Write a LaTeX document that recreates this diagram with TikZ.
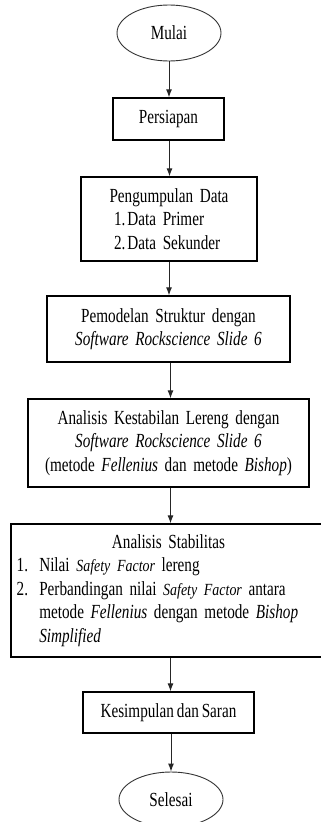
\documentclass[tikz,border=0pt]{standalone}
\usepackage{fontspec}
\setmainfont{Liberation Serif}[FakeStretch=0.76, WordSpace=0.76]
\newfontfamily\smallitfam{Liberation Serif}[FakeStretch=0.82, WordSpace=0.82]
\usetikzlibrary{arrows.meta,shapes.geometric}
\newcommand{\sfact}{{\smallitfam\itshape\fontsize{17}{23.5}\selectfont Safety Factor}}
\begin{document}
\begin{tikzpicture}[x=1pt,y=1pt,
  every node/.style={font=\fontsize{20}{23.5}\selectfont, inner sep=0pt, text=black},
  box/.style={draw=black, line width=1.3pt, rectangle},
  term/.style={draw=black!80, line width=0.9pt, ellipse},
  arr/.style={draw=black!85, line width=1pt, -{Latex[length=8pt,width=6pt]}}]
\useasboundingbox (0,0) rectangle (321,-822);
\node[term, minimum width=104pt, minimum height=56pt] (mulai) at (169,-33) {Mulai};
\node[box, minimum width=111pt, minimum height=42pt] (prep) at (168.5,-119) {Persiapan};
\node[box, minimum width=176pt, minimum height=84pt, text width=176pt, align=left] (data) at (169,-219)
  {\makebox[176pt][c]{Pengumpulan Data}\\\hspace*{33pt}1.\kern2pt Data Primer\\\hspace*{33pt}2.\kern2pt Data Sekunder};
\node[box, minimum width=243pt, minimum height=66pt, text width=243pt, align=center] (model) at (168.5,-329)
  {Pemodelan Struktur dengan\\\textit{Software Rockscience Slide 6}};
\node[box, minimum width=281pt, minimum height=88pt, text width=281pt, align=center] (kest) at (168.5,-443)
  {Analisis Kestabilan Lereng dengan\\\textit{Software Rockscience Slide 6}\\(metode \textit{Fellenius} dan metode \textit{Bishop})};
\node[box, minimum width=315pt, minimum height=133pt, text width=315pt, align=left] (stab) at (168.5,-590.5)
  {\makebox[315pt][c]{Analisis Stabilitas}\\
   \hspace*{5.7pt}\makebox[22.6pt][l]{1.}Nilai \sfact{} lereng\\
   \hspace*{5.7pt}\makebox[22.6pt][l]{2.}\makebox[281pt][s]{Perbandingan nilai \sfact{} antara}\\
   \hspace*{28.3pt}\makebox[281pt][s]{metode \textit{Fellenius} dengan metode \textit{Bishop}}\\
   \hspace*{28.3pt}\textit{Simplified}};
\node[box, minimum width=171pt, minimum height=41pt] (kes) at (168.5,-712.5) {Kesimpulan dan Saran};
\node[term, minimum width=104pt, minimum height=55pt] (sel) at (171,-799.5) {Selesai};
\draw[arr] (mulai.south) -- (mulai.south |- prep.north);
\draw[arr] ([xshift=1pt]prep.south) -- ([xshift=1pt]prep.south |- data.north);
\draw[arr] (data.south) -- (data.south |- model.north);
\draw[arr] ([xshift=2pt]model.south) -- ([xshift=2pt]model.south |- kest.north);
\draw[arr] ([xshift=2pt]kest.south) -- ([xshift=2pt]kest.south |- stab.north);
\draw[arr] ([xshift=2pt]stab.south) -- ([xshift=2pt]stab.south |- kes.north);
\draw[arr] (sel.north |- kes.south) -- (sel.north);
\end{tikzpicture}
\end{document}
